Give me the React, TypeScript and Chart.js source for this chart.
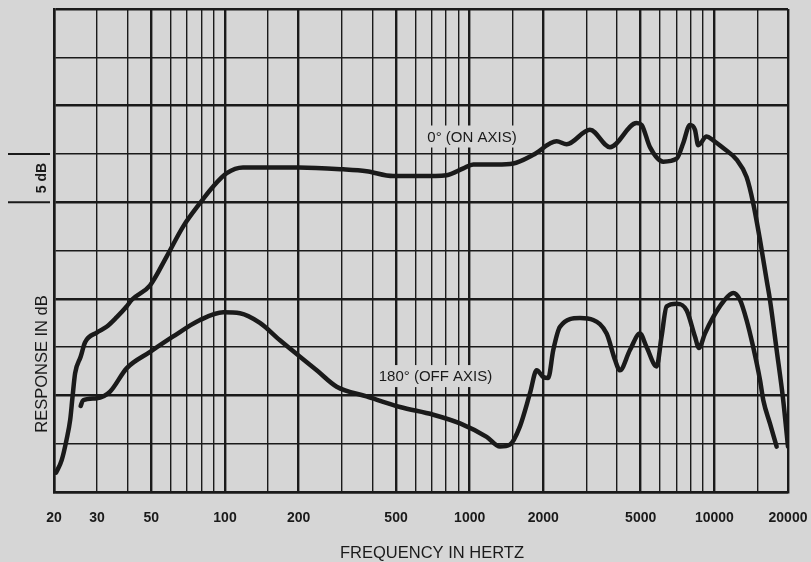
import React, { useEffect, useRef } from "react";
import { Chart, registerables } from "chart.js";

Chart.register(...registerables);

// Grid values (Hz) and labelled ticks
const freqGrid = [20, 30, 40, 50, 60, 70, 80, 90, 100, 150, 200, 300, 400, 500, 600, 700, 800, 900, 1000, 1500, 2000, 3000, 4000, 5000, 6000, 7000, 8000, 9000, 10000, 15000, 20000];
const freqLabels = [20, 30, 50, 100, 200, 500, 1000, 2000, 5000, 10000, 20000];
const freqMajor = [20, 50, 100, 200, 500, 1000, 2000, 5000, 10000, 20000];

// 0° (ON AXIS) response
const onAxisFreq = [20.4, 21.5, 22.5, 23.3, 23.8, 24.4, 25.7, 26.8, 29.9, 32.8, 36.1, 39.6, 41.6, 49.4, 57.8, 67.5, 79, 89.3, 101.6, 118.4, 148, 200, 304, 379, 487, 626, 805, 942, 1034, 1289, 1507, 1819, 2267, 2491, 3100, 3743, 4811, 5043, 5455, 6181, 7011, 7458, 7943, 8330, 8593, 9297, 9890, 10871, 12331, 13544, 14413, 15366, 16364, 16873, 17974, 19118, 20000];
const onAxisDb = [2.0, 3.3, 5.4, 7.5, 9.8, 12.3, 14.0, 15.5, 16.5, 17.1, 18.1, 19.2, 19.9, 21.4, 24.4, 27.5, 29.9, 31.6, 33.0, 33.6, 33.6, 33.6, 33.4, 33.2, 32.7, 32.7, 32.8, 33.5, 33.9, 33.9, 34.0, 34.9, 36.3, 36.0, 37.5, 35.7, 38.2, 38.0, 35.7, 34.2, 34.5, 36.1, 38.0, 37.5, 35.9, 36.8, 36.4, 35.6, 34.4, 32.6, 29.9, 26.1, 21.9, 19.9, 14.7, 9.5, 4.7];

// 180° (OFF AXIS) response
const offAxisFreq = [25.7, 26.3, 29.9, 33.9, 39.6, 49.4, 61.4, 79, 98.4, 115.1, 138.9, 167.7, 202.5, 237, 286, 379, 519, 710, 913, 1173, 1329, 1460, 1605, 1763, 1878, 1998, 2094, 2196, 2338, 2822, 3198, 3628, 3924, 4112, 4519, 4965, 5285, 5807, 6086, 6380, 7012, 7704, 8330, 8649, 9150, 9890, 10871, 11945, 12722, 13544, 14413, 15366, 15851, 16873, 17974];
const offAxisDb = [8.9, 9.5, 9.7, 10.4, 12.8, 14.5, 16.1, 17.8, 18.6, 18.5, 17.5, 15.7, 14.0, 12.6, 10.9, 9.9, 8.8, 8.0, 7.1, 5.7, 4.7, 4.9, 6.8, 10.2, 12.6, 11.9, 11.8, 14.7, 17.1, 18.0, 17.8, 16.4, 13.7, 12.6, 14.7, 16.4, 15.0, 13.0, 16.1, 19.2, 19.5, 18.8, 16.1, 14.9, 16.4, 18.1, 19.7, 20.6, 19.9, 17.8, 15.0, 11.6, 9.5, 7.1, 4.7];

const onAxisLabel = "0° (ON AXIS)";
const offAxisLabel = "180° (OFF AXIS)";
const xTitle = "FREQUENCY IN HERTZ";
const yTitle = "RESPONSE IN dB";
const scaleLabel = "5 dB";

const PAPER = "#d6d6d6";
const INK = "#1a1a1a";
const FONT = "'Liberation Sans', Arial, Helvetica, sans-serif";

const overlay = {
  id: "overlay",
  afterDraw(chart: any) {
    const ctx = chart.ctx as CanvasRenderingContext2D;
    const xs = chart.scales.x;
    const ys = chart.scales.y;
    ctx.save();
    // curve labels with paper background
    const drawLabel = (text: string, f: number, db: number) => {
      ctx.font = `15px ${FONT}`;
      const w = ctx.measureText(text).width;
      const cx = xs.getPixelForValue(f);
      const cy = ys.getPixelForValue(db);
      ctx.fillStyle = PAPER;
      ctx.fillRect(cx - w / 2 - 4, cy - 11, w + 8, 22);
      ctx.fillStyle = INK;
      ctx.textAlign = "center";
      ctx.textBaseline = "middle";
      ctx.fillText(text, cx, cy + 1);
    };
    drawLabel(onAxisLabel, 1022, 36.8);
    drawLabel(offAxisLabel, 725, 12.0);

    // x title
    ctx.fillStyle = INK;
    ctx.font = `16.5px ${FONT}`;
    ctx.textAlign = "center";
    ctx.textBaseline = "middle";
    ctx.fillText(xTitle, 432, 553);

    // y title
    ctx.save();
    ctx.translate(42, 364);
    ctx.rotate(-Math.PI / 2);
    ctx.fillText(yTitle, 0, 0);
    ctx.restore();

    // 5 dB scale marker
    const yA = ys.getPixelForValue(35);
    const yB = ys.getPixelForValue(30);
    ctx.strokeStyle = INK;
    ctx.lineWidth = 2;
    ctx.beginPath();
    ctx.moveTo(8, yA);
    ctx.lineTo(50, yA);
    ctx.moveTo(8, yB);
    ctx.lineTo(50, yB);
    ctx.stroke();
    ctx.save();
    ctx.translate(42, (yA + yB) / 2);
    ctx.rotate(-Math.PI / 2);
    ctx.font = `bold 14px ${FONT}`;
    ctx.fillText(scaleLabel, 0, 0);
    ctx.restore();
    ctx.restore();
  },
};

export default function App() {
  const ref = useRef<HTMLCanvasElement | null>(null);
  useEffect(() => {
    document.body.style.margin = "0";
    document.body.style.background = PAPER;
    if (!ref.current) return;
    const chart = new Chart(ref.current, {
      type: "line",
      data: {
        datasets: [
          {
            label: onAxisLabel,
            data: onAxisFreq.map((f, i) => ({ x: f, y: onAxisDb[i] })),
            borderColor: INK,
            borderWidth: 4.5,
            pointRadius: 0,
            cubicInterpolationMode: "monotone",
            borderCapStyle: "round",
            borderJoinStyle: "round",
            fill: false,
          },
          {
            label: offAxisLabel,
            data: offAxisFreq.map((f, i) => ({ x: f, y: offAxisDb[i] })),
            borderColor: INK,
            borderWidth: 4.5,
            pointRadius: 0,
            cubicInterpolationMode: "monotone",
            borderCapStyle: "round",
            borderJoinStyle: "round",
            fill: false,
          },
        ],
      },
      options: {
        animation: false,
        responsive: false,
        devicePixelRatio: 1,
        layout: { padding: { top: 9, right: 23, bottom: 30, left: 0 } },
        plugins: { legend: { display: false }, tooltip: { enabled: false } },
        scales: {
          x: {
            type: "logarithmic",
            min: 20,
            max: 20000,
            afterBuildTicks: (scale: any) => {
              scale.ticks = freqGrid.map((v) => ({ value: v }));
            },
            afterFit: (scale: any) => {
              scale.height = 40;
              scale.paddingLeft = 0;
              scale.paddingRight = 0;
            },
            ticks: {
              autoSkip: false,
              maxRotation: 0,
              minRotation: 0,
              padding: 18,
              color: INK,
              font: { family: FONT, size: 14, weight: "bold" },
              callback: (v: any) => (freqLabels.includes(Number(v)) ? String(v) : ""),
            },
            grid: {
              color: INK,
              drawTicks: false,
              lineWidth: (c: any) => (c.tick && freqMajor.includes(c.tick.value) ? 2.4 : 1.4),
            },
            border: { display: true, color: INK, width: 2.5 },
          },
          y: {
            type: "linear",
            min: 0,
            max: 50,
            afterFit: (scale: any) => {
              scale.width = 54;
              scale.paddingTop = 0;
              scale.paddingBottom = 0;
            },
            ticks: { stepSize: 5, display: false },
            grid: {
              color: INK,
              drawTicks: false,
              lineWidth: (c: any) => (c.tick && c.tick.value % 10 === 0 ? 2.4 : 1.4),
            },
            border: { display: true, color: INK, width: 2.5 },
          },
        },
      },
      plugins: [overlay],
    } as any);
    return () => chart.destroy();
  }, []);
  return (
    <div style={{ position: "fixed", left: 0, top: 0, width: 811, height: 562, background: PAPER }}>
      <canvas ref={ref} width={811} height={562} style={{ display: "block" }} />
    </div>
  );
}
